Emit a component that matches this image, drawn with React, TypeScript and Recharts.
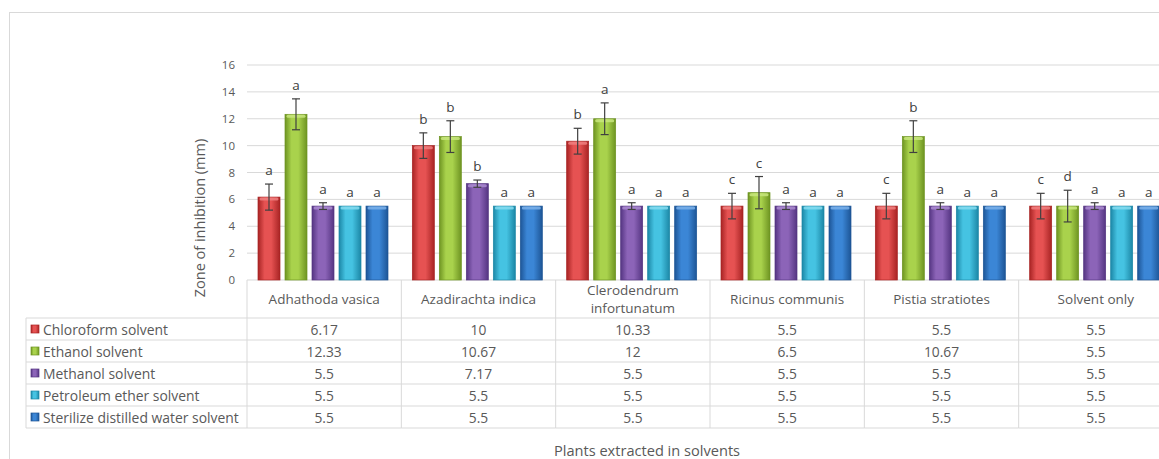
import { BarChart, Bar, XAxis, YAxis, CartesianGrid, ErrorBar, LabelList } from 'recharts';

const plants = ['Adhathoda vasica', 'Azadirachta indica', 'Clerodendrum infortunatum', 'Ricinus communis', 'Pistia stratiotes', 'Solvent only'];

const chloroform = [6.17, 10, 10.33, 5.5, 5.5, 5.5];
const ethanol = [12.33, 10.67, 12, 6.5, 10.67, 5.5];
const methanol = [5.5, 7.17, 5.5, 5.5, 5.5, 5.5];
const petroleum = [5.5, 5.5, 5.5, 5.5, 5.5, 5.5];
const water = [5.5, 5.5, 5.5, 5.5, 5.5, 5.5];

const chloroformErr = [0.97, 0.95, 0.96, 0.95, 0.95, 0.95];
const ethanolErr = [1.15, 1.18, 1.18, 1.2, 1.18, 1.18];
const methanolErr = [0.25, 0.27, 0.25, 0.25, 0.25, 0.25];
const petroleumErr = [0, 0, 0, 0, 0, 0];
const waterErr = [0, 0, 0, 0, 0, 0];

const chloroformSig = ['a', 'b', 'b', 'c', 'c', 'c'];
const ethanolSig = ['a', 'b', 'a', 'c', 'b', 'd'];
const methanolSig = ['a', 'b', 'a', 'a', 'a', 'a'];
const petroleumSig = ['a', 'a', 'a', 'a', 'a', 'a'];
const waterSig = ['a', 'a', 'a', 'a', 'a', 'a'];

const yTicks = [0, 2, 4, 6, 8, 10, 12, 14, 16];

const series = [
  { key: 'chloroform', name: 'Chloroform solvent', values: chloroform, err: chloroformErr, sig: chloroformSig, edge: '#a82424', mid: '#e65252', cap: '#f08080' },
  { key: 'ethanol', name: 'Ethanol solvent', values: ethanol, err: ethanolErr, sig: ethanolSig, edge: '#6e9422', mid: '#a9d24c', cap: '#c8e67e' },
  { key: 'methanol', name: 'Methanol solvent', values: methanol, err: methanolErr, sig: methanolSig, edge: '#553582', mid: '#8c64b8', cap: '#aa8bd0' },
  { key: 'petroleum', name: 'Petroleum ether solvent', values: petroleum, err: petroleumErr, sig: petroleumSig, edge: '#1c87a6', mid: '#45c3e2', cap: '#86dcf0' },
  { key: 'water', name: 'Sterilize distilled water solvent', values: water, err: waterErr, sig: waterSig, edge: '#1d5596', mid: '#3b86d6', cap: '#7cb2ea' },
];

const data = plants.map((p, i) => {
  const row: any = { plant: p };
  series.forEach((s) => {
    row[s.key] = s.values[i];
    row[s.key + 'Err'] = s.err[i];
  });
  return row;
});

const FONT = '"Open Sans", Lato, sans-serif';
const TXT = '#595959';
const LINE = '#d9d9d9';

const W = 1180;
const H = 459;
const M = { top: 65, right: 7, bottom: 0, left: 217 };
const Y_W = 30;
const X_H = 179;
const PLOT_W = W - M.left - Y_W - M.right;
const PLOT_BOTTOM = H - M.bottom - X_H;
const BAND = PLOT_W / plants.length;
const HEADER_BOTTOM = PLOT_BOTTOM + 38;
const ROW_H = 22;
const TABLE_LEFT = 26;

const Bar3D = (s: any) => (props: any) => {
  const { x, y, width, height } = props;
  if (!height || height <= 0) return null;
  return (
    <g>
      <rect x={x} y={y} width={width} height={height} fill={`url(#grad-${s.key})`} stroke={s.edge} strokeWidth={0.7} />
      <rect x={x + 1.5} y={y + 0.5} width={width - 3} height={3} rx={1.5} fill={s.cap} opacity={0.85} />
    </g>
  );
};

const SigLabel = (s: any) => (props: any) => {
  const { x, y, width, height, value, index } = props;
  if (value == null) return null;
  const perUnit = height / value;
  const top = y - s.err[index] * perUnit;
  return (
    <text x={x + width / 2} y={top - 9} textAnchor="middle" fontSize={13.5} fill="#404040" fontFamily={FONT}>
      {s.sig[index]}
    </text>
  );
};

const headerLines = (name: string) => (name.length > 20 ? name.split(' ') : [name]);

const TableTick = (props: any) => {
  const { x, payload } = props;
  const i = props.index ?? plants.indexOf(payload.value);
  const left = x - BAND / 2;
  const right = x + BAND / 2;
  const bottom = HEADER_BOTTOM + ROW_H * series.length;
  const lines = headerLines(payload.value);
  const headerMid = (PLOT_BOTTOM + HEADER_BOTTOM) / 2;
  return (
    <g fontFamily={FONT}>
      {i === 0 && (
        <g>
          <line x1={left} y1={PLOT_BOTTOM} x2={left} y2={bottom} stroke={LINE} />
          <line x1={TABLE_LEFT} y1={HEADER_BOTTOM} x2={TABLE_LEFT} y2={bottom} stroke={LINE} />
          {series.map((s, r) => (
            <line key={'ll' + r} x1={TABLE_LEFT} y1={HEADER_BOTTOM + ROW_H * (r + 1)} x2={left} y2={HEADER_BOTTOM + ROW_H * (r + 1)} stroke={LINE} />
          ))}
          <line x1={TABLE_LEFT} y1={HEADER_BOTTOM} x2={left} y2={HEADER_BOTTOM} stroke={LINE} />
          {series.map((s, r) => {
            const cy = HEADER_BOTTOM + ROW_H * r + ROW_H / 2;
            return (
              <g key={'lg' + r}>
                <rect x={TABLE_LEFT + 5} y={cy - 4} width={8} height={8} fill={`url(#grad-${s.key})`} stroke={s.edge} strokeWidth={0.7} />
                <text x={TABLE_LEFT + 17} y={cy} dominantBaseline="central" fontSize={13.9} fill={TXT}>
                  {s.name}
                </text>
              </g>
            );
          })}
        </g>
      )}
      <line x1={right} y1={PLOT_BOTTOM} x2={right} y2={bottom} stroke={LINE} />
      {[0, 1, 2, 3, 4, 5].map((r) => (
        <line key={'hl' + r} x1={left} y1={HEADER_BOTTOM + ROW_H * r} x2={right} y2={HEADER_BOTTOM + ROW_H * r} stroke={LINE} />
      ))}
      {lines.map((ln, k) => (
        <text key={'h' + k} x={x} y={headerMid + (k - (lines.length - 1) / 2) * 17.5} textAnchor="middle" dominantBaseline="central" fontSize={13.5} fill={TXT}>
          {ln}
        </text>
      ))}
      {series.map((s, r) => (
        <text key={'v' + r} x={x} y={HEADER_BOTTOM + ROW_H * r + ROW_H / 2} textAnchor="middle" dominantBaseline="central" fontSize={13.8} fill={TXT}>
          {String(s.values[i])}
        </text>
      ))}
    </g>
  );
};

const YTitle = () => (
  <text x={199} y={218} transform="rotate(-90 199 218)" textAnchor="middle" dominantBaseline="central" fontSize={14.5} fill={TXT} fontFamily={FONT}>
    Zone of inhibition (mm)
  </text>
);

export default function App() {
  return (
    <div style={{ position: 'absolute', left: 0, top: 0, width: 1159, height: 459, overflow: 'hidden', background: '#fff' }}>
      <div style={{ position: 'absolute', left: 9, top: 12, width: 1300, height: 600, borderLeft: `1px solid ${LINE}`, borderTop: `1px solid ${LINE}` }} />
      <div style={{ position: 'absolute', left: 0, top: 0 }}>
        <BarChart width={W} height={H} data={data} margin={M} barCategoryGap={11} barGap={5}>
          <defs>
            {series.map((s) => (
              <linearGradient key={s.key} id={`grad-${s.key}`} x1="0" y1="0" x2="1" y2="0">
                <stop offset="0%" stopColor={s.edge} />
                <stop offset="30%" stopColor={s.mid} />
                <stop offset="60%" stopColor={s.mid} />
                <stop offset="100%" stopColor={s.edge} />
              </linearGradient>
            ))}
          </defs>
          <CartesianGrid vertical={false} stroke={LINE} />
          <XAxis
            dataKey="plant"
            height={X_H}
            interval={0}
            tickLine={false}
            axisLine={false}
            tick={<TableTick />}
          />
          <YAxis
            width={Y_W}
            domain={[0, 16]}
            ticks={yTicks}
            tickLine={false}
            axisLine={false}
            tickMargin={6}
            tick={{ fill: TXT, fontSize: 11.5, fontFamily: FONT }}
            label={<YTitle />}
          />
          {series.map((s) => (
            <Bar key={s.key} dataKey={s.key} name={s.name} isAnimationActive={false} shape={Bar3D(s)}>
              <ErrorBar dataKey={s.key + 'Err'} width={4} stroke="#404040" strokeWidth={1.2} isAnimationActive={false} />
              <LabelList dataKey={s.key} content={SigLabel(s)} />
            </Bar>
          ))}
        </BarChart>
      </div>
      <div style={{ position: 'absolute', left: 0, top: 440, width: 1294, textAlign: 'center', fontFamily: FONT, fontSize: 14.6, color: TXT }}>
        Plants extracted in solvents
      </div>
    </div>
  );
}
